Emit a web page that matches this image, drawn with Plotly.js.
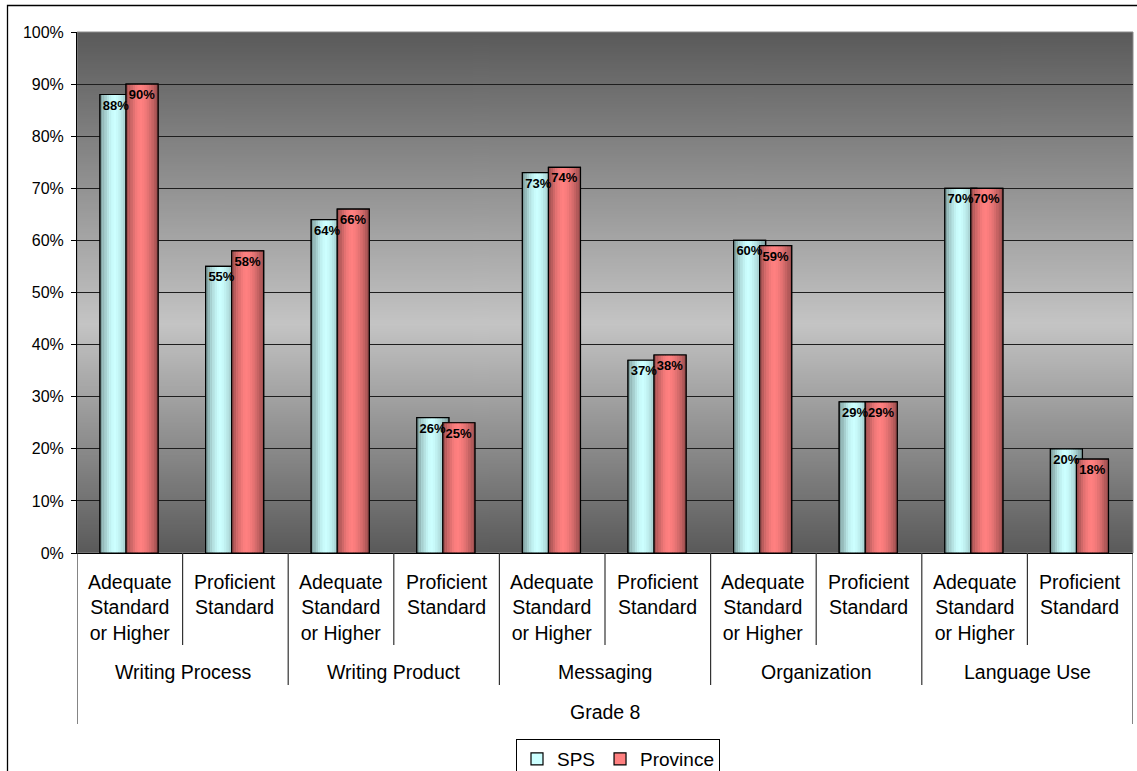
<!DOCTYPE html>
<html>
<head>
<meta charset="utf-8">
<script src="https://cdn.plot.ly/plotly-3.0.1.min.js"></script>
<style>
  html, body { margin: 0; padding: 0; background: #fff; }
  #chart { width: 1137px; height: 771px; }
</style>
</head>
<body>
<div id="chart"></div>
<script>
// ---- data ----
const levelLabels = [
  'Adequate<br>Standard<br>or Higher', 'Proficient<br>Standard',
  'Adequate<br>Standard<br>or Higher', 'Proficient<br>Standard',
  'Adequate<br>Standard<br>or Higher', 'Proficient<br>Standard',
  'Adequate<br>Standard<br>or Higher', 'Proficient<br>Standard',
  'Adequate<br>Standard<br>or Higher', 'Proficient<br>Standard'
];
const groupLabels = ['Writing Process', 'Writing Product', 'Messaging', 'Organization', 'Language Use'];
const gradeLabel = 'Grade 8';
const spsValues = [88, 55, 64, 26, 73, 37, 60, 29, 70, 20];
const provinceValues = [90, 58, 66, 25, 74, 38, 59, 29, 70, 18];
const seriesNames = ['SPS', 'Province'];

// ---- geometry helpers (pixel -> paper) ----
const W = 1137, H = 771;
const plotL = 77, plotR = 1133, plotT = 32, plotB = 553;
const px = p => (p - plotL) / (plotR - plotL);
const py = p => (plotB - p) / (plotB - plotT);

const FONT = 'Liberation Sans, Arial, sans-serif';
const xIdx = spsValues.map((_, i) => i);

// bar placement in category units
const barW = 0.303;
const series = [
  { name: seriesNames[0], values: spsValues, base: [204, 255, 255], offset: -0.282 },
  { name: seriesNames[1], values: provinceValues, base: [255, 128, 128], offset: -0.0355 }
];

// cylinder-like shading across a bar: darker edges, highlight left of centre
function shade(t) {
  const h = 0.45;
  const d = t < h ? (h - t) / h : (t - h) / (1 - h);
  return 1 - 0.42 * Math.pow(d, 1.6);
}
const rgb = (c, f) => 'rgb(' + c.map(v => Math.round(v * f)).join(',') + ')';

const traces = [];
const STRIPS = 14;
series.forEach(s => {
  // base bar carries the legend entry
  traces.push({
    type: 'bar', name: s.name, x: xIdx, y: s.values,
    offset: s.offset, width: barW,
    marker: { color: rgb(s.base, 1), line: { color: '#000', width: 1.2 } },
    hoverinfo: 'skip', textposition: 'none'
  });
  // shading strips
  for (let k = 0; k < STRIPS; k++) {
    const t = (k + 0.5) / STRIPS;
    traces.push({
      type: 'bar', x: xIdx, y: s.values, showlegend: false,
      offset: s.offset + barW * k / STRIPS, width: barW / STRIPS + 0.002,
      marker: { color: rgb(s.base, shade(t)), line: { width: 0 } },
      hoverinfo: 'skip', textposition: 'none'
    });
  }
  // outline on top
  traces.push({
    type: 'bar', x: xIdx, y: s.values, showlegend: false,
    offset: s.offset, width: barW,
    marker: { color: 'rgba(0,0,0,0)', line: { color: '#000', width: 1.2 } },
    hoverinfo: 'skip', textposition: 'none'
  });
});
// value labels, drawn last so they sit above both bars
series.forEach(s => {
  traces.push({
    type: 'bar', x: xIdx, y: s.values, showlegend: false,
    offset: s.offset, width: barW,
    marker: { color: 'rgba(0,0,0,0)', line: { width: 0 } },
    text: s.values.map(v => v + '%'),
    textposition: 'inside', insidetextanchor: 'end',
    textangle: 0, constraintext: 'none',
    textfont: { family: FONT, size: 13, color: '#000', weight: 'bold' },
    hoverinfo: 'skip'
  });
});

// ---- category axis labels and dividers ----
const annotations = [];
levelLabels.forEach((lab, i) => {
  annotations.push({
    text: lab, x: i, xref: 'x', y: py(569), yref: 'paper',
    yanchor: 'top', xanchor: 'center', showarrow: false, align: 'center',
    font: { family: FONT, size: 19.5, color: '#000' }
  });
});
groupLabels.forEach((lab, g) => {
  annotations.push({
    text: lab, x: 2 * g + 0.5, xref: 'x', y: py(672), yref: 'paper',
    yanchor: 'middle', xanchor: 'center', showarrow: false,
    font: { family: FONT, size: 19.5, color: '#000' }
  });
});
annotations.push({
  text: gradeLabel, x: 4.5, xref: 'x', y: py(712), yref: 'paper',
  yanchor: 'middle', xanchor: 'center', showarrow: false,
  font: { family: FONT, size: 19.5, color: '#000' }
});

const shapes = [];
for (let k = 0; k <= levelLabels.length; k++) {
  let end;
  if (k === 0 || k === levelLabels.length) end = 724;
  else if (k % 2 === 0) end = 685;
  else end = 645;
  shapes.push({
    type: 'line', xref: 'x', yref: 'paper', x0: k - 0.5, x1: k - 0.5,
    y0: 0, y1: py(end), line: { color: '#333', width: 1.2 }
  });
}
// plot area edge
shapes.push({
  type: 'rect', xref: 'paper', yref: 'paper', x0: 0, x1: 1, y0: 0, y1: 1,
  line: { color: '#8a8a8a', width: 1 }, layer: 'below'
});
// outer chart frame
shapes.push({
  type: 'rect', xref: 'paper', yref: 'paper',
  x0: px(7.5), x1: px(1145), y0: py(785), y1: py(5.5),
  line: { color: '#000', width: 1.3 }
});

// vertical grey gradient behind the plot area
function bgGradient() {
  const c = document.createElement('canvas');
  c.width = 4; c.height = 512;
  const g = c.getContext('2d');
  const grd = g.createLinearGradient(0, 0, 0, 512);
  grd.addColorStop(0, '#5a5a5a');
  grd.addColorStop(0.56, '#c4c4c4');
  grd.addColorStop(1, '#5a5a5a');
  g.fillStyle = grd;
  g.fillRect(0, 0, 4, 512);
  return c.toDataURL('image/png');
}

const layout = {
  width: W, height: H,
  margin: { l: plotL, r: W - plotR, t: plotT, b: H - plotB, pad: 0 },
  paper_bgcolor: '#fff', plot_bgcolor: 'rgba(0,0,0,0)',
  barmode: 'overlay',
  showlegend: true,
  font: { family: FONT, color: '#000' },
  xaxis: {
    range: [-0.5, levelLabels.length - 0.5], showticklabels: false,
    showgrid: false, zeroline: false, ticks: '',
    showline: true, linecolor: '#000', linewidth: 1
  },
  yaxis: {
    range: [0, 100], dtick: 10, ticksuffix: '%',
    showgrid: true, gridcolor: '#1e1e1e', gridwidth: 1, zeroline: false,
    showline: true, linecolor: '#000', linewidth: 1,
    ticks: 'outside', ticklen: 5, tickcolor: '#000', ticklabelstandoff: 4,
    tickfont: { family: FONT, size: 16, color: '#000' }
  },
  legend: {
    orientation: 'h', xref: 'container', yref: 'container',
    x: 618 / W, xanchor: 'center', y: 1 - 739 / H, yanchor: 'top',
    bgcolor: '#fff', bordercolor: '#000', borderwidth: 1,
    font: { family: FONT, size: 19, color: '#000' },
    traceorder: 'normal'
  },
  images: [{
    source: bgGradient(), xref: 'paper', yref: 'paper',
    x: 0, y: 1, sizex: 1, sizey: 1, xanchor: 'left', yanchor: 'top',
    sizing: 'stretch', layer: 'below'
  }],
  annotations: annotations,
  shapes: shapes
};

Plotly.newPlot('chart', traces, layout, { displayModeBar: false, staticPlot: true });
</script>
</body>
</html>
